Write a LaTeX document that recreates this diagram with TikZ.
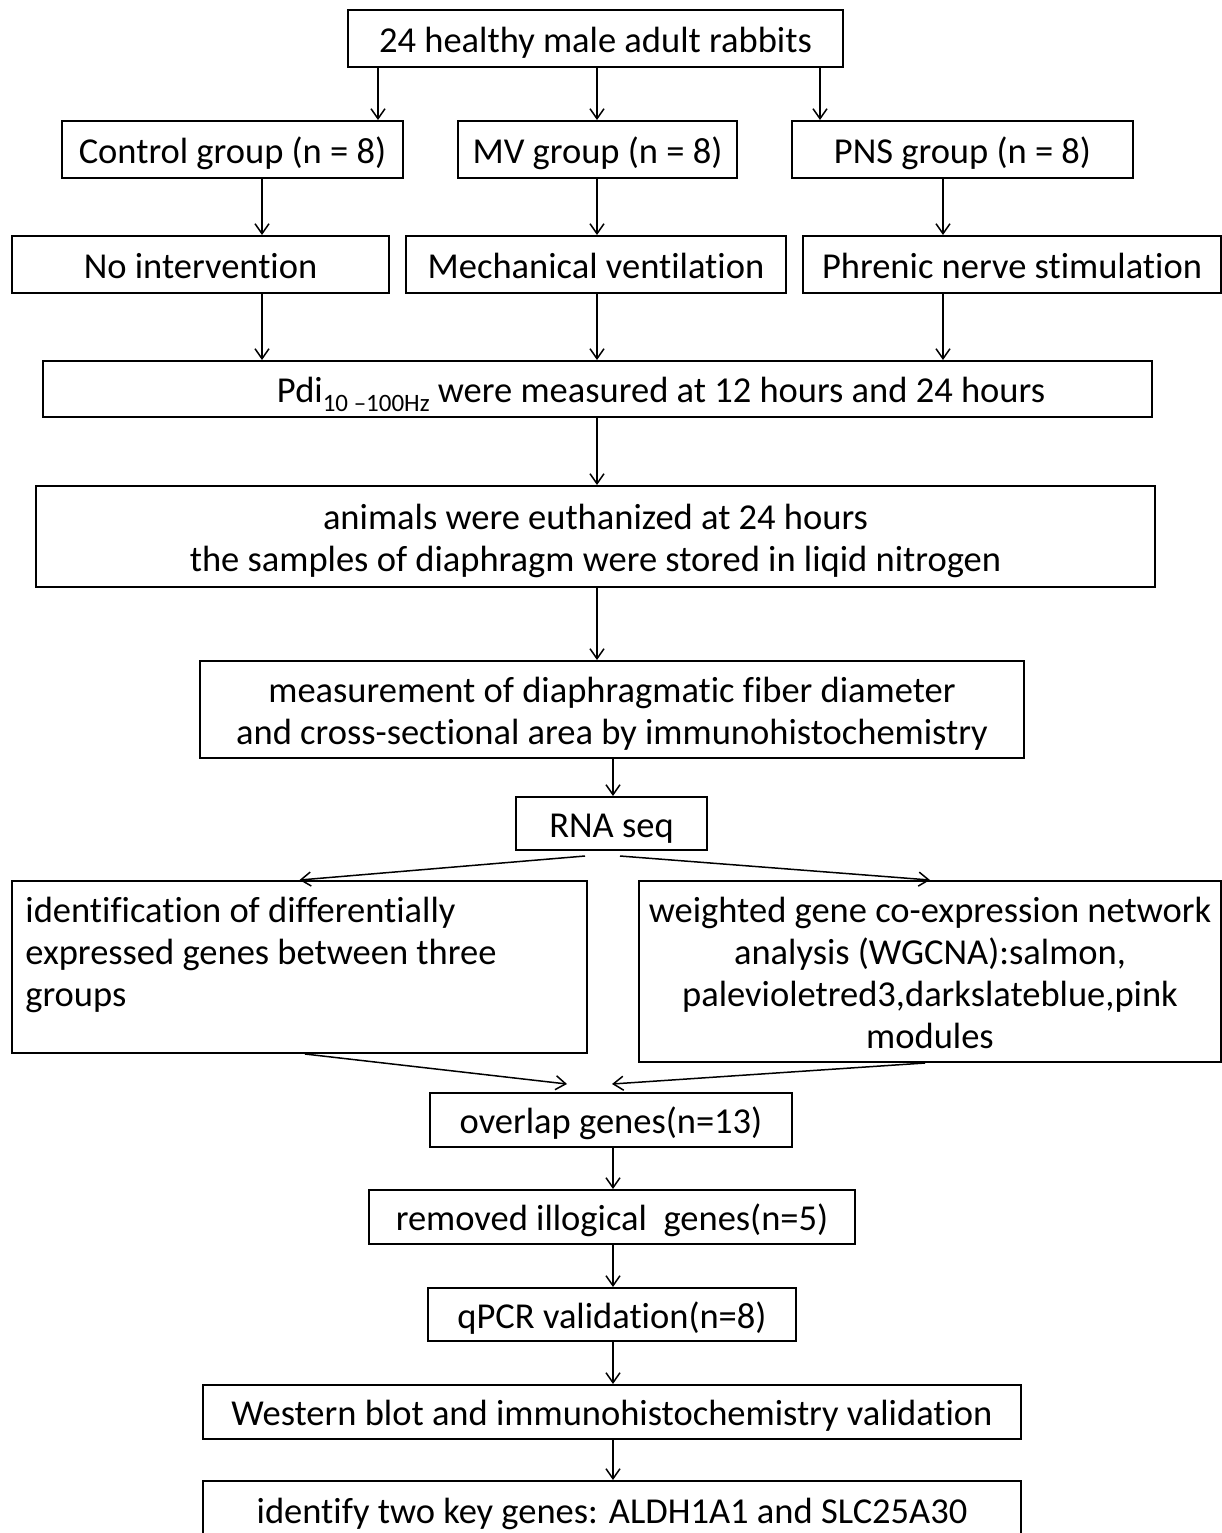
\documentclass[tikz,border=0pt]{standalone}
\usepackage{fontspec}
\setmainfont{Carlito}[Ligatures=NoCommon]
\usetikzlibrary{arrows.meta,calc}
\newcommand\ts{\rule[-4.5pt]{0pt}{22.5pt}}
\newcommand\tsa{\rule{0pt}{18pt}}
\newcommand\tsb{\rule[-4.5pt]{0pt}{0pt}}
\begin{document}
\begin{tikzpicture}[x=0.5pt,y=-0.5pt,
  box/.style={draw,line width=1pt,rectangle,inner sep=0pt,align=center,
    font=\fontsize{18.25}{21}\selectfont},
  arr/.style={line width=0.75pt,-{Straight Barb[length=5pt,width=7pt]}}]
\useasboundingbox (0,0) rectangle (1222,1533);
% row 1
\node[box,minimum width=247.5pt,minimum height=28.5pt] (top) at (595.5,38.5) {\ts 24 healthy male adult rabbits};
% row 2
\node[box,minimum width=170.5pt,minimum height=28.5pt] (ctrl) at (232.5,149.5) {\ts Control group (n = 8)};
\node[box,minimum width=139.5pt,minimum height=28.5pt] (mv) at (597.5,149.5) {\ts MV group (n = 8)};
\node[box,minimum width=170.5pt,minimum height=28.5pt] (pns) at (962.5,149.5) {\ts PNS group (n = 8)};
% row 3
\node[box,minimum width=188.5pt,minimum height=28.5pt] (noi) at (200.5,264.5) {\ts No intervention};
\node[box,minimum width=190pt,minimum height=28.5pt] (mech) at (596,264.5) {\ts Mechanical ventilation};
\node[box,minimum width=209pt,minimum height=28.5pt] (phr) at (1012,264.5) {\ts Phrenic nerve stimulation};
% row 4
\node[box,minimum width=554.5pt,minimum height=28pt] (pdi) at (597.5,389)
  {\hspace*{63.5pt}\ts Pdi\raisebox{-4.5pt}{\fontsize{12.5}{12.5}\selectfont 10 –100Hz} were measured at 12 hours and 24 hours};
\node[box,minimum width=559.5pt,minimum height=50.5pt] (euth) at (595.5,536.5)
  {\tsa animals were euthanized at 24 hours\\the samples of diaphragm were stored in liqid nitrogen\tsb};
\node[box,minimum width=412pt,minimum height=48.5pt] (meas) at (612,709.5)
  {\tsa measurement of diaphragmatic fiber diameter\\and cross-sectional area by immunohistochemistry\tsb};
\node[box,minimum width=95.5pt,minimum height=26.5pt] (rna) at (611.5,823.5) {\ts RNA seq};
% branches
\node[box,minimum width=287.5pt,minimum height=86pt] (deg) at (299.5,967) {};
\node[align=left,anchor=north west,inner sep=0pt,font=\fontsize{18.25}{21}\selectfont] (degtxt) at (25,897)
  {identification of differentially\\expressed genes between three\\groups};
\node[box,minimum width=291pt,minimum height=90.5pt] (wgc) at (930,971.5)
  {\tsa weighted gene co-expression network\\analysis (WGCNA):salmon,\\palevioletred3,darkslateblue,pink\\modules\tsb};
% lower chain
\node[box,minimum width=181pt,minimum height=27pt] (ovl) at (611,1120) {\ts overlap genes(n=13)};
\node[box,minimum width=243pt,minimum height=27pt] (rem) at (612,1217) {\ts removed illogical\ \ genes(n=5)};
\node[box,minimum width=184pt,minimum height=26.5pt] (qpcr) at (612,1314.5) {\ts qPCR validation(n=8)};
\node[box,minimum width=409pt,minimum height=27pt] (wb) at (612,1412) {\ts Western blot and immunohistochemistry validation};
\node[box,minimum width=409pt,minimum height=29pt] (fin) at (612,1510) {\ts identify two key genes: ALDH1A1 and SLC25A30};
% arrows row1 -> row2
\draw[arr] (378,0 |- top.south) -- (378,0 |- ctrl.north);
\draw[arr] (597,0 |- top.south) -- (597,0 |- mv.north);
\draw[arr] (820,0 |- top.south) -- (820,0 |- pns.north);
% row2 -> row3
\draw[arr] (262,0 |- ctrl.south) -- (262,0 |- noi.north);
\draw[arr] (597,0 |- mv.south) -- (597,0 |- mech.north);
\draw[arr] (943,0 |- pns.south) -- (943,0 |- phr.north);
% row3 -> pdi
\draw[arr] (262,0 |- noi.south) -- (262,0 |- pdi.north);
\draw[arr] (597,0 |- mech.south) -- (597,0 |- pdi.north);
\draw[arr] (943,0 |- phr.south) -- (943,0 |- pdi.north);
% chain
\draw[arr] (597,0 |- pdi.south) -- (597,0 |- euth.north);
\draw[arr] (597,0 |- euth.south) -- (597,0 |- meas.north);
\draw[arr] (613,0 |- meas.south) -- (613,0 |- rna.north);
\draw[arr] ([shift={(-26.5,5)}]rna.south) -- (deg.north);
\draw[arr] ([shift={(8.5,5)}]rna.south) -- (wgc.north);
\draw[arr] ([shift={(5.5,0)}]deg.south) -- ([shift={(-44,-8)}]ovl.north);
\draw[arr] ([shift={(-5,0)}]wgc.south) -- ([shift={(1,-8)}]ovl.north);
\draw[arr] (613,0 |- ovl.south) -- (613,0 |- rem.north);
\draw[arr] (613,0 |- rem.south) -- (613,0 |- qpcr.north);
\draw[arr] (613,0 |- qpcr.south) -- (613,0 |- wb.north);
\draw[arr] (613,0 |- wb.south) -- (613,0 |- fin.north);
\end{tikzpicture}
\end{document}
